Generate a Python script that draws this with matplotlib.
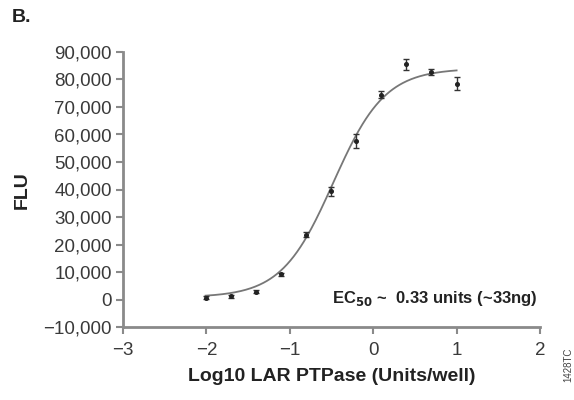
import numpy as np
import matplotlib
matplotlib.use("Agg")
import matplotlib.pyplot as plt
from matplotlib.ticker import FuncFormatter

# Data (log10 units/well vs FLU)
log_dose = [-2.01, -1.709, -1.408, -1.107, -0.806, -0.505, -0.204, 0.097, 0.398, 0.699, 1.0]
flu_mean = [700, 1100, 2900, 9100, 23600, 39300, 57500, 74500, 85500, 82800, 78500]
flu_err = [400, 400, 500, 700, 800, 1500, 2500, 1200, 2000, 1000, 2500]

# 4-parameter logistic fit parameters
fit_bottom = 800
fit_top = 84000
fit_logec50 = -0.48
fit_hill = 1.4

x_ticks = [-3, -2, -1, 0, 1, 2]
y_ticks = [-10000, 0, 10000, 20000, 30000, 40000, 50000, 60000, 70000, 80000, 90000]

bold_fam = ['Liberation Sans Narrow', 'Liberation Sans', 'DejaVu Sans']
tick_fam = ['Liberation Sans', 'DejaVu Sans']

fig = plt.figure(figsize=(5.74, 4.0), dpi=100)
ax = fig.add_axes([123/574, 1-327/400, (540-123)/574, (327-52)/400])

xc = np.linspace(min(log_dose), max(log_dose), 300)
yc = fit_bottom + (fit_top - fit_bottom) / (1 + 10 ** ((fit_logec50 - xc) * fit_hill))
ax.plot(xc, yc, color='#777777', lw=1.3, zorder=2)
ax.errorbar(log_dose, flu_mean, yerr=flu_err, fmt='o', ms=2.6, color='#222222',
            ecolor='#333333', elinewidth=1.0, capsize=2.5, capthick=1.0, zorder=3)

ax.set_xlim(-3, 2)
ax.set_ylim(-10000, 90000)
ax.set_xticks(x_ticks)
ax.set_yticks(y_ticks)
ax.xaxis.set_major_formatter(FuncFormatter(lambda v, p: f"{int(v)}".replace('-', '\u2212')))
ax.yaxis.set_major_formatter(FuncFormatter(lambda v, p: f"{int(v):,}".replace('-', '\u2212')))
for s in ['top', 'right']:
    ax.spines[s].set_visible(False)
for s in ['left', 'bottom']:
    ax.spines[s].set_color('#8a8a8a')
    ax.spines[s].set_linewidth(2.0)
ax.tick_params(axis='both', colors='#8a8a8a', width=1.5, length=5, labelcolor='#3a3a3a',
               labelsize=13.5)
ax.tick_params(axis='x', pad=6)
ax.tick_params(axis='y', pad=3)
for lab in ax.get_xticklabels() + ax.get_yticklabels():
    lab.set_family(tick_fam)

ax.set_xlabel('Log10 LAR PTPase (Units/well)', fontsize=14, fontweight='bold',
              family=bold_fam, color='#222222', labelpad=6)
fig.text(22/574, 1-190/400, 'FLU', rotation=90, fontsize=14, fontweight='bold',
         family=bold_fam, color='#222222', ha='center', va='center')
fig.text(12/574, 1-18/400, 'B.', fontsize=14, fontweight='bold', family=bold_fam,
         color='#222222', ha='left', va='center')
ax.text(0.995, 0.105, r'EC$_{\mathbf{50}}$ ~  0.33 units (~33ng)', transform=ax.transAxes,
        fontsize=12, fontweight='bold', family=bold_fam, color='#222222', ha='right', va='center')
fig.text(568/574, 1-365/400, '1428TC', rotation=90, fontsize=7, family=tick_fam,
         color='#444444', ha='center', va='center')

fig.savefig('out.png', dpi=100)
